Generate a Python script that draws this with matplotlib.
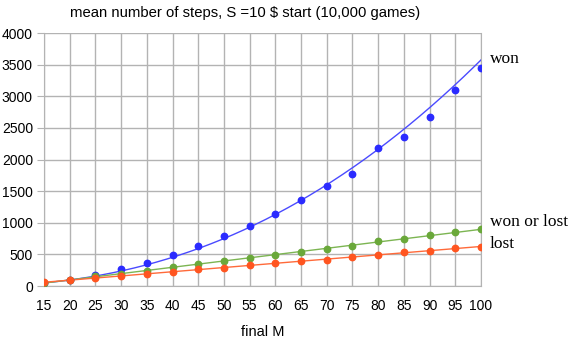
import matplotlib
matplotlib.use("Agg")
import matplotlib.pyplot as plt
import numpy as np

final_m = [15, 20, 25, 30, 35, 40, 45, 50, 55, 60, 65, 70, 75, 80, 85, 90, 95, 100]
steps_won = [40, 95, 169, 264, 358, 485, 632, 796, 943, 1133, 1360, 1581, 1766,
             2177, 2360, 2672, 3099, 3451]
steps_any = [55, 95, 158, 195, 242, 295, 348, 395, 438, 487, 543, 580, 632,
             706, 748, 801, 859, 901]
steps_lost = [63, 90, 126, 158, 190, 226, 264, 290, 327, 358, 390, 416, 458,
              495, 538, 558, 596, 617]

# label, values, dot colour, line colour, trend type, label offset (pt)
series = [
    ("won", steps_won, "#2b2bff", "#4a4aff", "power", 1),
    ("won or lost", steps_any, "#6aa83a", "#7cb552", "linear", 5),
    ("lost", steps_lost, "#ff5520", "#ff6a3a", "linear", 2),
]

fig = plt.figure(figsize=(5.73, 3.45), dpi=100)
ax = fig.add_axes([0.0768, 0.171, 0.7626, 0.7333])

x = np.array(final_m, dtype=float)
xs = np.linspace(15, 100, 200)
for label, vals, dot_color, line_color, kind, dy in series:
    if kind == "power":
        b, loga = np.polyfit(np.log(x), np.log(vals), 1)
        fit = np.exp(loga) * xs ** b
    else:
        fit = np.polyval(np.polyfit(x, vals, 1), xs)
    ax.plot(xs, fit, color=line_color, lw=1.0, zorder=3)
    ax.plot(x, vals, "o", color=dot_color, ms=4.6, zorder=4)
    ax.annotate(label, xy=(100, fit[-1]), xytext=(6.5, dy),
                textcoords="offset points", va="center", ha="left",
                fontsize=12.5, family="Liberation Serif", annotation_clip=False)

ax.set_xlim(15, 100)
ax.set_ylim(0, 4000)
ax.set_xticks(final_m)
ax.set_yticks(range(0, 4001, 500))
ax.grid(True, color="#b3b3b3", lw=1.0)
ax.set_axisbelow(True)
for side in ["left", "bottom", "top", "right"]:
    ax.spines[side].set_color("#b3b3b3")
ax.spines["top"].set_visible(False)
ax.tick_params(axis="y", length=5, color="#b3b3b3", labelsize=10, pad=3)
ax.tick_params(axis="x", length=0, labelsize=10, pad=9)
for t in ax.get_xticklabels() + ax.get_yticklabels():
    t.set_family("Liberation Sans")

ax.set_xlabel("final M", fontsize=10.5, family="Liberation Sans", labelpad=9)
fig.text(0.428, 0.962, "mean number of steps, S =10 $ start (10,000 games)",
         ha="center", va="center", fontsize=10.7, family="Liberation Sans")

fig.savefig("out.png", dpi=100)
